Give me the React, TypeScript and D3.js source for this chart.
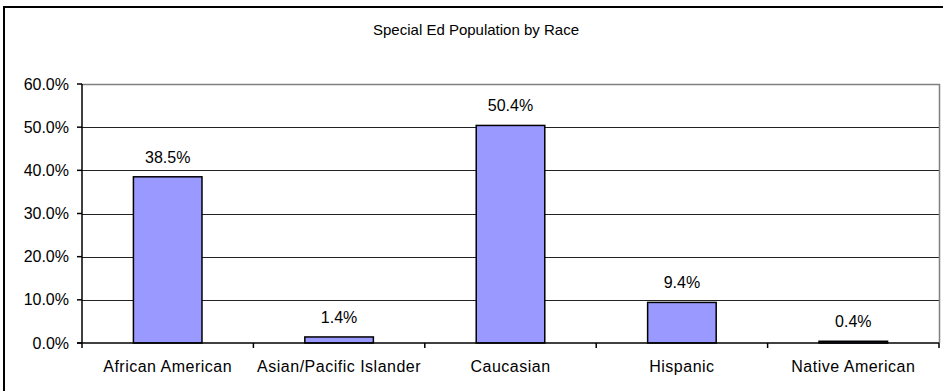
import React from "react";
import * as d3 from "d3";

const categories = [
  "African American",
  "Asian/Pacific Islander",
  "Caucasian",
  "Hispanic",
  "Native American",
];
const shares = [38.5, 1.4, 50.4, 9.4, 0.4];
const yTicks = [0, 10, 20, 30, 40, 50, 60];
const chartTitle = "Special Ed Population by Race";

const W = 943;
const H = 391;
const plot = { left: 82, right: 939, top: 84, bottom: 343 };
const font = "'Liberation Sans', Arial, Helvetica, sans-serif";

export default function App() {
  const x = d3
    .scaleBand<string>()
    .domain(categories)
    .range([plot.left, plot.right])
    .paddingInner(0.6)
    .paddingOuter(0.3);
  const band = (plot.right - plot.left) / categories.length;
  const y = d3.scaleLinear().domain([0, 60]).range([plot.bottom, plot.top]);
  const fmt = (v: number) => v.toFixed(1) + "%";

  return (
    <svg
      width={W}
      height={H}
      style={{ position: "absolute", left: 0, top: 0, background: "#fff" }}
      fontFamily={font}
    >
      <rect x={0} y={0} width={W} height={H} fill="#fff" />
      {/* chart frame */}
      <rect x={4} y={7} width={W + 10} height={H + 10} fill="none" stroke="#000" strokeWidth={2} />
      <text x={476} y={35} textAnchor="middle" fontSize={15} fill="#000">
        {chartTitle}
      </text>

      {/* gridlines */}
      {yTicks.slice(1, -1).map((t) => (
        <line
          key={t}
          x1={plot.left}
          x2={plot.right}
          y1={Math.round(y(t)) + 0.5}
          y2={Math.round(y(t)) + 0.5}
          stroke="#222"
          strokeWidth={1}
        />
      ))}
      {/* plot area border (top and right) */}
      <path
        d={`M${plot.left},${plot.top + 0.5}H${plot.right + 0.5}V${plot.bottom}`}
        fill="none"
        stroke="#808080"
        strokeWidth={1.5}
      />

      {/* bars */}
      {categories.map((c, i) => (
        <rect
          key={c}
          x={x(c)!}
          y={y(shares[i])}
          width={x.bandwidth()}
          height={plot.bottom - y(shares[i])}
          fill="#9999FF"
          stroke="#000"
          strokeWidth={1.5}
        />
      ))}
      {/* value labels */}
      {categories.map((c, i) => (
        <text
          key={c}
          x={x(c)! + x.bandwidth() / 2}
          y={y(shares[i]) - 14}
          textAnchor="middle"
          fontSize={16}
          fill="#000"
        >
          {fmt(shares[i])}
        </text>
      ))}

      {/* axes */}
      <line x1={plot.left} x2={plot.left} y1={plot.top} y2={plot.bottom} stroke="#000" strokeWidth={1.5} />
      <line x1={plot.left - 5} x2={plot.right} y1={plot.bottom} y2={plot.bottom} stroke="#000" strokeWidth={1.5} />
      {yTicks.map((t) => (
        <g key={t}>
          <line x1={plot.left - 5} x2={plot.left} y1={y(t)} y2={y(t)} stroke="#000" strokeWidth={1.5} />
          <text x={69} y={y(t)} dy="0.35em" textAnchor="end" fontSize={16} fill="#000">
            {fmt(t)}
          </text>
        </g>
      ))}
      {d3.range(categories.length + 1).map((k) => (
        <line
          key={k}
          x1={plot.left + k * band}
          x2={plot.left + k * band}
          y1={plot.bottom}
          y2={plot.bottom + 5}
          stroke="#000"
          strokeWidth={1.5}
        />
      ))}
      {categories.map((c) => (
        <text
          key={c}
          x={x(c)! + x.bandwidth() / 2}
          y={372}
          textAnchor="middle"
          fontSize={16}
          letterSpacing={0.5}
          fill="#000"
        >
          {c}
        </text>
      ))}
    </svg>
  );
}
